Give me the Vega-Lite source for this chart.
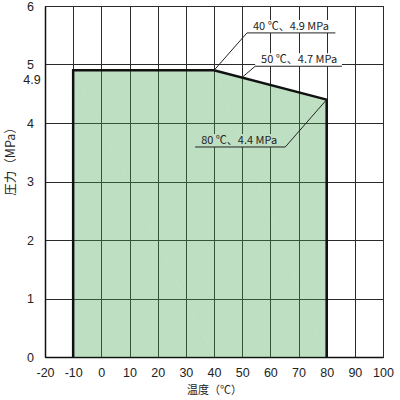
{
  "$schema": "https://vega.github.io/schema/vega-lite/v6.json",
  "width": 338,
  "height": 351,
  "autosize": {"type": "none"},
  "padding": {"left": 45, "top": 6, "right": 17, "bottom": 43},
  "background": "white",
  "config": {
    "view": {"stroke": "#333", "strokeWidth": 1},
    "font": "Liberation Sans",
    "axis": {
      "grid": true,
      "gridColor": "#2a2a2a",
      "gridWidth": 1,
      "ticks": false,
      "domainColor": "#111",
      "domainWidth": 1.5,
      "labelFont": "Liberation Sans",
      "labelFontSize": 12.5,
      "labelColor": "#222",
      "labelFlush": false,
      "labelOverlap": false,
      "labelExpr": "'' + datum.value",
      "titleFont": "Noto Sans CJK JP",
      "titleFontSize": 11,
      "titleFontWeight": "normal",
      "titleColor": "#222"
    },
    "axisX": {"labelPadding": 9, "titlePadding": 6},
    "axisY": {"labelAlign": "center", "labelPadding": 15, "titleFontSize": 12.5}
  },
  "datasets": {
    "boundary": [
      {"temp": -10, "pressure": 0, "i": 1},
      {"temp": -10, "pressure": 4.9, "i": 2},
      {"temp": 40, "pressure": 4.9, "i": 3},
      {"temp": 80, "pressure": 4.4, "i": 4},
      {"temp": 80, "pressure": 0, "i": 5}
    ],
    "notes": [
      {"label": "40 ℃、4.9 MPa", "px": 40, "py": 4.9, "ux1": 51.7, "ux2": 83.1, "uy": 5.54, "ex": 51.7},
      {"label": "50 ℃、4.7 MPa", "px": 50, "py": 4.78, "ux1": 54.6, "ux2": 85.4, "uy": 4.97, "ex": 54.6},
      {"label": "80 ℃、4.4 MPa", "px": 80, "py": 4.4, "ux1": 33.3, "ux2": 65.3, "uy": 3.59, "ex": 65.3}
    ],
    "extraTick": [
      {"temp": -20, "pressure": 4.9, "label": "4.9"}
    ]
  },
  "layer": [
    {
      "data": {"name": "notes"},
      "mark": {"type": "rect", "fill": "white", "y2Offset": -13},
      "encoding": {
        "x": {
          "field": "ux1",
          "type": "quantitative",
          "scale": {"domain": [-20, 100], "nice": false, "zero": false},
          "axis": {"title": "温度（℃）", "values": [-20, -10, 0, 10, 20, 30, 40, 50, 60, 70, 80, 90, 100]}
        },
        "x2": {"field": "ux2"},
        "y": {
          "field": "uy",
          "type": "quantitative",
          "scale": {"domain": [0, 6], "nice": false},
          "axis": {"title": "圧力（MPa）", "values": [0, 1, 2, 3, 4, 5, 6], "titleX": -35, "titleY": 152, "titleAlign": "center", "titleBaseline": "middle", "titleAngle": -90}
        },
        "y2": {"field": "uy"}
      }
    },
    {
      "data": {"name": "boundary"},
      "mark": {"type": "area", "color": "#48a454", "fillOpacity": 0.35},
      "encoding": {
        "x": {"field": "temp", "type": "quantitative", "axis": {"title": "温度（℃）", "values": [-20, -10, 0, 10, 20, 30, 40, 50, 60, 70, 80, 90, 100]}},
        "y": {"field": "pressure", "type": "quantitative", "axis": {"title": "圧力（MPa）", "values": [0, 1, 2, 3, 4, 5, 6], "titleX": -35, "titleY": 152, "titleAlign": "center", "titleBaseline": "middle", "titleAngle": -90}},
        "order": {"field": "i", "type": "quantitative"}
      }
    },
    {
      "data": {"name": "boundary"},
      "mark": {"type": "line", "color": "#111", "strokeWidth": 2.5, "strokeJoin": "miter"},
      "encoding": {
        "x": {"field": "temp", "type": "quantitative", "axis": {"title": "温度（℃）", "values": [-20, -10, 0, 10, 20, 30, 40, 50, 60, 70, 80, 90, 100]}},
        "y": {"field": "pressure", "type": "quantitative", "axis": {"title": "圧力（MPa）", "values": [0, 1, 2, 3, 4, 5, 6], "titleX": -35, "titleY": 152, "titleAlign": "center", "titleBaseline": "middle", "titleAngle": -90}},
        "order": {"field": "i", "type": "quantitative"}
      }
    },
    {
      "data": {"name": "notes"},
      "mark": {"type": "rule", "color": "#222", "strokeWidth": 1},
      "encoding": {
        "x": {"field": "px", "type": "quantitative", "axis": {"title": "温度（℃）", "values": [-20, -10, 0, 10, 20, 30, 40, 50, 60, 70, 80, 90, 100]}},
        "y": {"field": "py", "type": "quantitative", "axis": {"title": "圧力（MPa）", "values": [0, 1, 2, 3, 4, 5, 6], "titleX": -35, "titleY": 152, "titleAlign": "center", "titleBaseline": "middle", "titleAngle": -90}},
        "x2": {"field": "ex"},
        "y2": {"field": "uy"}
      }
    },
    {
      "data": {"name": "notes"},
      "mark": {"type": "rule", "color": "#222", "strokeWidth": 1},
      "encoding": {
        "x": {"field": "ux1", "type": "quantitative", "axis": {"title": "温度（℃）", "values": [-20, -10, 0, 10, 20, 30, 40, 50, 60, 70, 80, 90, 100]}},
        "x2": {"field": "ux2"},
        "y": {"field": "uy", "type": "quantitative", "axis": {"title": "圧力（MPa）", "values": [0, 1, 2, 3, 4, 5, 6], "titleX": -35, "titleY": 152, "titleAlign": "center", "titleBaseline": "middle", "titleAngle": -90}}
      }
    },
    {
      "data": {"name": "notes"},
      "mark": {"type": "text", "align": "left", "baseline": "alphabetic", "dx": 6, "dy": -3, "font": "Noto Sans CJK JP", "fontSize": 11, "color": "#222"},
      "encoding": {
        "x": {"field": "ux1", "type": "quantitative", "axis": {"title": "温度（℃）", "values": [-20, -10, 0, 10, 20, 30, 40, 50, 60, 70, 80, 90, 100]}},
        "y": {"field": "uy", "type": "quantitative", "axis": {"title": "圧力（MPa）", "values": [0, 1, 2, 3, 4, 5, 6], "titleX": -35, "titleY": 152, "titleAlign": "center", "titleBaseline": "middle", "titleAngle": -90}},
        "text": {"field": "label"}
      }
    },
    {
      "data": {"name": "extraTick"},
      "mark": {"type": "text", "align": "center", "baseline": "middle", "dx": -13, "dy": 10, "font": "Liberation Sans", "fontSize": 12.5, "color": "#222"},
      "encoding": {
        "x": {"field": "temp", "type": "quantitative", "axis": {"title": "温度（℃）", "values": [-20, -10, 0, 10, 20, 30, 40, 50, 60, 70, 80, 90, 100]}},
        "y": {"field": "pressure", "type": "quantitative", "axis": {"title": "圧力（MPa）", "values": [0, 1, 2, 3, 4, 5, 6], "titleX": -35, "titleY": 152, "titleAlign": "center", "titleBaseline": "middle", "titleAngle": -90}},
        "text": {"field": "label"}
      }
    }
  ]
}
